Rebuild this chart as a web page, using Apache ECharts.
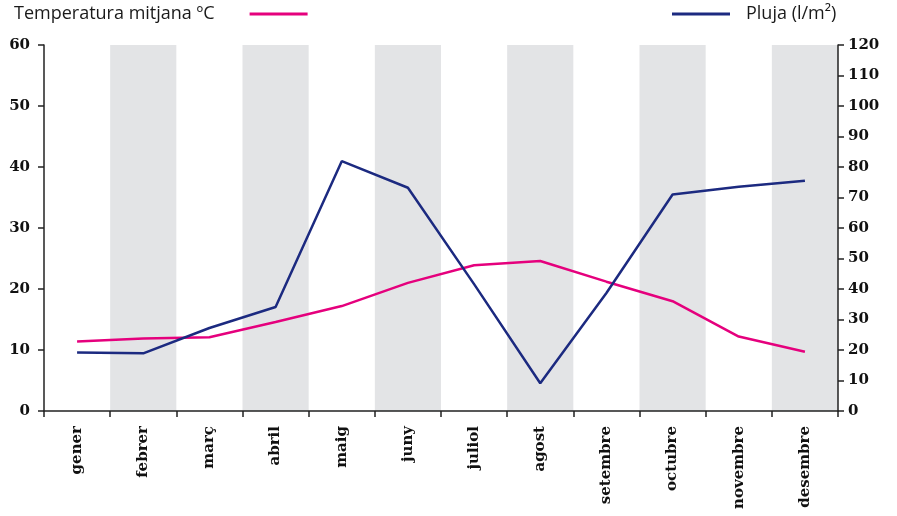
<!DOCTYPE html>
<html><head><meta charset="utf-8">
<script src="https://cdn.jsdelivr.net/npm/echarts@6/dist/echarts.min.js"></script>
<style>html,body{margin:0;padding:0;background:#fff}#c{width:897px;height:516px}</style>
</head><body><div id="c"></div>
<script>
const months = ['gener','febrer','març','abril','maig','juny','juliol','agost','setembre','octubre','novembre','desembre'];
const temperatura = [11.4, 11.9, 12.1, 14.6, 17.2, 21.0, 23.9, 24.6, 21.2, 18.0, 12.2, 9.7];
const pluja = [19.2, 18.9, 27.2, 34.1, 81.9, 73.2, 41.6, 9.1, 38.7, 71.0, 73.5, 75.5];
const tempTicks = {min: 0, max: 60, interval: 10};
const rainTicks = {min: 0, max: 120, interval: 10};
const tempName = 'Temperatura mitjana ºC';
const rainName = 'Pluja (l/m²)';

const pink = '#e5007d', navy = '#1c2a80';
const axisFont = {fontFamily: 'DejaVu Serif', fontWeight: 'bold', fontSize: 15, color: '#111'};
const legendFont = {fontFamily: 'Open Sans', fontSize: 18, color: '#1a1a1a'};
const chart = echarts.init(document.getElementById('c'), null, {renderer: 'canvas'});
chart.setOption({
  animation: false,
  grid: {left: 44, right: 59, top: 45, bottom: 105, containLabel: false},
  legend: [
    {data: [tempName], left: 14, top: 5, padding: 0, align: 'right', icon: 'rect', itemWidth: 58, itemHeight: 3,
     textStyle: Object.assign({padding: [0, 30, 0, 0]}, legendFont)},
    {data: [rainName], left: 672, top: 5, padding: 0, align: 'left', icon: 'rect', itemWidth: 58, itemHeight: 3,
     textStyle: Object.assign({padding: [0, 0, 0, 11]}, legendFont)}
  ],
  xAxis: {
    type: 'category', data: months, boundaryGap: true,
    axisLine: {lineStyle: {color: '#222', width: 1.5}},
    axisTick: {show: true, length: 6, lineStyle: {color: '#222', width: 1.5}},
    axisLabel: Object.assign({rotate: 90, margin: 15, interval: 0}, axisFont),
    splitArea: {show: true, interval: 0, areaStyle: {color: ['rgba(255,255,255,0)', '#e3e4e6']}},
    splitLine: {show: false}
  },
  yAxis: [
    Object.assign({type: 'value', position: 'left',
      axisLine: {show: true, lineStyle: {color: '#222', width: 1.5}},
      axisTick: {show: true, length: 6, lineStyle: {color: '#222', width: 1.5}},
      axisLabel: Object.assign({margin: 14}, axisFont),
      splitLine: {show: false}}, tempTicks),
    Object.assign({type: 'value', position: 'right',
      axisLine: {show: true, lineStyle: {color: '#222', width: 1.5}},
      axisTick: {show: true, length: 6, lineStyle: {color: '#222', width: 1.5}},
      axisLabel: Object.assign({margin: 10}, axisFont),
      splitLine: {show: false}}, rainTicks)
  ],
  series: [
    {name: tempName, type: 'line', yAxisIndex: 0, data: temperatura, symbol: 'none',
     lineStyle: {color: pink, width: 2.5}, itemStyle: {color: pink}},
    {name: rainName, type: 'line', yAxisIndex: 1, data: pluja, symbol: 'none',
     lineStyle: {color: navy, width: 2.5}, itemStyle: {color: navy}}
  ]
});
</script></body></html>
